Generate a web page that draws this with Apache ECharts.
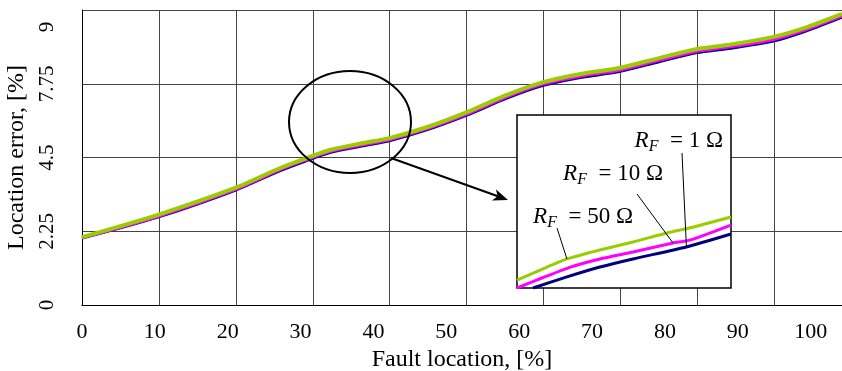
<!DOCTYPE html>
<html>
<head>
<meta charset="utf-8">
<script src="https://cdn.jsdelivr.net/npm/echarts@6/dist/echarts.min.js"></script>
<style>
html, body { margin: 0; padding: 0; background: #fff; }
#chart { width: 842px; height: 371px; }
</style>
</head>
<body>
<div id="chart"></div>
<script>
// main curves: fault location [%] -> location error [%]
var faultLoc = [0, 10.4, 21.0, 27.2, 30.9, 34.0, 38.6, 42.3, 47.4, 52.9, 58.3, 63.3, 68.4, 73.7, 79.3, 84.4, 88.5, 94.9, 99.5, 104.3];
var errR50 = [2.07, 2.75, 3.57, 4.18, 4.49, 4.73, 4.94, 5.10, 5.43, 5.89, 6.41, 6.80, 7.05, 7.23, 7.54, 7.81, 7.93, 8.18, 8.48, 8.88];
var errR10 = [2.05, 2.70, 3.52, 4.13, 4.44, 4.68, 4.89, 5.05, 5.38, 5.83, 6.35, 6.74, 6.98, 7.16, 7.47, 7.74, 7.86, 8.10, 8.41, 8.82];
var errR1  = [2.04, 2.68, 3.50, 4.10, 4.41, 4.65, 4.86, 5.02, 5.35, 5.80, 6.31, 6.70, 6.94, 7.12, 7.43, 7.70, 7.82, 8.05, 8.37, 8.78];

var yTickValues = [0, 2.25, 4.5, 6.75, 9];
var yTickLabels = ['0', '2.25', '4.5', '7.75', '9'];

// zoomed inset of the circled region
var insetLoc50 = [30, 31.3, 32.8, 34.65, 36.5, 38.4, 39.9, 42];
var insetR50   = [4.446, 4.504, 4.568, 4.620, 4.666, 4.718, 4.753, 4.810];
var insetLoc10 = [30, 31.1, 33.0, 34.65, 36.5, 38.75, 39.7, 42];
var insetR10   = [4.400, 4.446, 4.521, 4.568, 4.608, 4.660, 4.677, 4.764];
var insetLoc1  = [30.9, 32.8, 34.65, 36.5, 39.5, 42];
var insetR1    = [4.400, 4.464, 4.521, 4.568, 4.637, 4.712];

var font = 'Liberation Serif';
var cGreen = '#9acd00', cPink = '#ff00ff', cNavy = '#00007f';

function pairs(xs, ys) {
    return xs.map(function (x, i) { return [x, ys[i]]; });
}

var myChart = echarts.init(document.getElementById('chart'));

var option = {
    animation: false,
    grid: [
        { left: 82, top: 10, width: 760, height: 295, outerBoundsMode: 'none', containLabel: false },
        { left: 517, top: 115, width: 214, height: 173, show: true, backgroundColor: '#fff',
          borderColor: '#000', borderWidth: 1.5, z: 5, outerBoundsMode: 'none' }
    ],
    xAxis: [
        // grid lines only
        { gridIndex: 0, type: 'value', position: 'top', min: 0, max: 98.8, interval: 10,
          axisLine: { show: true, lineStyle: { color: '#888', width: 1 } },
          axisTick: { show: false }, axisLabel: { show: false },
          splitLine: { show: true, lineStyle: { color: '#444', width: 1 } } },
        // labelled axis
        { gridIndex: 0, type: 'value', position: 'bottom', min: 0, max: 104.3, interval: 10,
          axisLine: { show: true, onZero: false, lineStyle: { color: '#000', width: 1 } },
          axisTick: { show: false }, splitLine: { show: false },
          axisLabel: { showMaxLabel: false, margin: 16, color: '#000', fontFamily: font, fontSize: 22,
              formatter: function (v) { return v % 10 === 0 ? String(v) : ''; } },
          name: 'Fault location, [%]', nameLocation: 'middle', nameGap: 37,
          nameTextStyle: { color: '#000', fontFamily: font, fontSize: 24 } },
        { gridIndex: 1, type: 'value', min: 30, max: 42, show: false }
    ],
    yAxis: [
        { gridIndex: 0, type: 'value', min: 0, max: 9, interval: 2.25,
          axisLine: { show: true, lineStyle: { color: '#000', width: 1 } },
          axisTick: { show: false },
          splitLine: { show: true, lineStyle: { color: '#444', width: 1 } },
          axisLabel: { rotate: 90, margin: 24, color: '#000', fontFamily: font, fontSize: 21,
              formatter: function (v) {
                  var i = yTickValues.indexOf(v);
                  if (i === yTickValues.length - 1) return '{top|' + yTickLabels[i] + '}';
                  return i >= 0 ? yTickLabels[i] : '';
              },
              rich: { top: { fontFamily: font, fontSize: 21, color: '#000', padding: [0, 34, 0, 0] } } },
          name: 'Location error, [%]', nameLocation: 'middle', nameRotate: 90, nameGap: 47,
          nameTextStyle: { color: '#000', fontFamily: font, fontSize: 24 } },
        { gridIndex: 1, type: 'value', min: 4.4, max: 5.4, show: false }
    ],
    series: [
        { type: 'line', xAxisIndex: 1, yAxisIndex: 0, data: pairs(faultLoc, errR1), showSymbol: false,
          smooth: 0.3, lineStyle: { color: cNavy, width: 3 }, z: 2 },
        { type: 'line', xAxisIndex: 1, yAxisIndex: 0, data: pairs(faultLoc, errR10), showSymbol: false,
          smooth: 0.3, lineStyle: { color: cPink, width: 3 }, z: 3 },
        { type: 'line', xAxisIndex: 1, yAxisIndex: 0, data: pairs(faultLoc, errR50), showSymbol: false,
          smooth: 0.3, lineStyle: { color: cGreen, width: 4 }, z: 4 },
        { type: 'line', xAxisIndex: 2, yAxisIndex: 1, data: pairs(insetLoc1, insetR1), showSymbol: false,
          smooth: 0.2, lineStyle: { color: cNavy, width: 3 }, z: 6 },
        { type: 'line', xAxisIndex: 2, yAxisIndex: 1, data: pairs(insetLoc10, insetR10), showSymbol: false,
          smooth: 0.2, lineStyle: { color: cPink, width: 3 }, z: 6 },
        { type: 'line', xAxisIndex: 2, yAxisIndex: 1, data: pairs(insetLoc50, insetR50), showSymbol: false,
          smooth: 0.2, lineStyle: { color: cGreen, width: 3 }, z: 6 }
    ]
};

myChart.setOption(option);

// annotations: circle, arrow and curve labels in the inset
function inPx(x, y) {
    return myChart.convertToPixel({ xAxisIndex: 2, yAxisIndex: 1 }, [x, y]);
}
function rfLabel(val) {
    return '{r|R}{s|F}{t|  = ' + val + ' Ω}';
}
var rich = {
    r: { fontFamily: font, fontSize: 23, fontStyle: 'italic', fill: '#000' },
    s: { fontFamily: font, fontSize: 16, fontStyle: 'italic', fill: '#000', padding: [12, 0, 0, 0] },
    t: { fontFamily: font, fontSize: 23, fill: '#000' }
};
var p50 = inPx(insetLoc50[2], insetR50[2]);
var p10 = inPx(insetLoc10[5], insetR10[5]);
var p1 = inPx(insetLoc1[4], insetR1[4]);

myChart.setOption({
    graphic: [
        { type: 'ellipse', shape: { cx: 350, cy: 122, rx: 61, ry: 51 }, z: 10,
          style: { fill: 'none', stroke: '#000', lineWidth: 2 } },
        { type: 'line', shape: { x1: 391, y1: 158, x2: 500, y2: 197 }, z: 10,
          style: { stroke: '#000', lineWidth: 2 } },
        { type: 'polygon', shape: { points: [[508, 200], [495.9, 189.3], [497.7, 196.3], [491.9, 200.5]] }, z: 10,
          style: { fill: '#000' } },
        { type: 'text', x: 723, y: 141, z: 10,
          style: { text: rfLabel(1), rich: rich, align: 'right', verticalAlign: 'middle' } },
        { type: 'text', x: 663, y: 174, z: 10,
          style: { text: rfLabel(10), rich: rich, align: 'right', verticalAlign: 'middle' } },
        { type: 'text', x: 633, y: 217, z: 10,
          style: { text: rfLabel(50), rich: rich, align: 'right', verticalAlign: 'middle' } },
        { type: 'line', shape: { x1: 682, y1: 153, x2: p1[0], y2: p1[1] }, z: 10,
          style: { stroke: '#000', lineWidth: 1 } },
        { type: 'line', shape: { x1: 637, y1: 194, x2: p10[0], y2: p10[1] }, z: 10,
          style: { stroke: '#000', lineWidth: 1 } },
        { type: 'line', shape: { x1: 557, y1: 228, x2: p50[0], y2: p50[1] }, z: 10,
          style: { stroke: '#000', lineWidth: 1 } }
    ]
});
</script>
</body>
</html>
